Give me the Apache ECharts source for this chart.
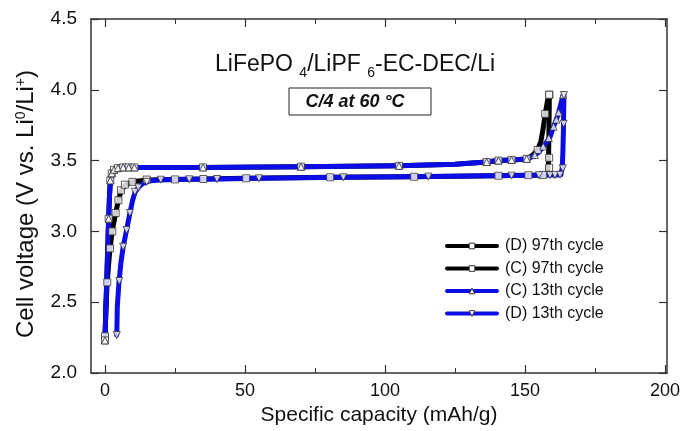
<!DOCTYPE html>
<html>
<head>
<meta charset="utf-8">
<script src="https://cdn.jsdelivr.net/npm/echarts@6.0.0/dist/echarts.min.js"></script>
<style>html,body{margin:0;padding:0;background:#fff}#chart{width:682px;height:431px}</style>
</head>
<body>
<div id="chart"></div>
<script>
// ---- data (capacity mAh/g, voltage V) ----
const xTicks = [0, 50, 100, 150, 200];
const xMinorTicks = [25, 75, 125, 175];
const yTicks = [2.0, 2.5, 3.0, 3.5, 4.0, 4.5];

const seriesNames = ['(D) 97th cycle', '(C) 97th cycle', '(C) 13th cycle', '(D) 13th cycle'];

// (D) 97th cycle - curve
const d97Line = [[0,2.23],[0.3,2.45],[0.8,2.64],[1.3,2.77],[1.8,2.88],[2.6,3.005],[3.8,3.13],[4.8,3.22],[5.7,3.285],[7.1,3.325],[9.8,3.35],[14.9,3.363],[25,3.367],[50,3.375],[80,3.382],[110,3.386],[140,3.393],[151,3.397],[157.5,3.398],[158.2,3.42],[158.4,3.5],[158.5,3.65],[158.6,3.8],[158.7,3.965]];
const d97Marks = [[0,2.26],[0.8,2.64],[1.8,2.88],[2.6,3.0],[3.8,3.13],[4.8,3.22],[5.7,3.29],[7.1,3.33],[9.8,3.35],[14.9,3.366],[25,3.367],[35.1,3.37],[50.4,3.375],[80.4,3.382],[110.4,3.386],[140.5,3.393],[151.2,3.397],[156.5,3.398],[158.6,3.45],[158.6,3.52],[158.7,3.965]];

// (C) 97th cycle
const c97Line = [[0,2.23],[0.3,2.45],[0.6,2.64],[1.0,2.9],[1.3,3.09],[1.6,3.25],[1.9,3.35],[2.4,3.41],[3.2,3.435],[4.6,3.447],[7,3.452],[35,3.452],[70,3.457],[105,3.463],[125,3.475],[136.3,3.49],[140.5,3.5],[145.2,3.505],[150.6,3.512],[152.5,3.535],[154.5,3.575],[155.7,3.64],[156.5,3.73],[157.2,3.83],[158,3.92],[158.6,3.965]];
const c97Marks = [[0,2.23],[1.3,3.09],[1.9,3.36],[2.4,3.41],[3.2,3.435],[4.6,3.447],[6.5,3.452],[8.5,3.452],[10.5,3.452],[35,3.452],[70,3.457],[105,3.463],[136.3,3.49],[140.5,3.5],[145.2,3.505],[150.6,3.512],[154.5,3.575],[157.2,3.83],[158.6,3.965]];

// (C) 13th cycle
const c13Line = [[0,2.23],[0.3,2.45],[0.6,2.64],[1.0,2.9],[1.3,3.09],[1.6,3.25],[1.9,3.35],[2.4,3.41],[3.2,3.435],[4.6,3.447],[7,3.452],[35,3.452],[70,3.457],[105,3.463],[125,3.475],[136.3,3.49],[140.5,3.5],[145.2,3.505],[150.6,3.512],[153,3.53],[155,3.56],[156.5,3.6],[158,3.64],[159,3.67],[160.2,3.74],[161.2,3.79],[162,3.84],[162.8,3.9],[163.6,3.965]];
const c13Marks = [[0,2.23],[1.3,3.09],[1.9,3.36],[2.4,3.41],[3.2,3.435],[4.6,3.447],[6.5,3.452],[8.5,3.452],[10.5,3.452],[35,3.452],[70,3.457],[105,3.463],[136.3,3.49],[140.5,3.5],[145.2,3.505],[150.6,3.512],[153.5,3.54],[156.5,3.6],[158.5,3.66],[160.2,3.74],[161.2,3.79],[162,3.84],[163.6,3.965]];

// (D) 13th cycle
const d13Line = [[4.2,2.268],[4.4,2.47],[5.0,2.645],[5.7,2.78],[6.5,2.892],[7.7,3.01],[8.9,3.13],[9.8,3.215],[10.7,3.275],[11.9,3.31],[13.3,3.335],[14.9,3.35],[17,3.36],[19.9,3.365],[30,3.368],[40,3.37],[55,3.375],[85,3.382],[115,3.387],[145,3.394],[155,3.397],[161.5,3.398],[162.8,3.4],[163.3,3.45],[163.5,3.55],[163.7,3.7],[163.8,3.85],[163.9,3.965]];
const d13Marks = [[4.2,2.268],[5.1,2.65],[6.5,2.892],[7.7,3.01],[8.9,3.13],[10.7,3.28],[11.9,3.31],[14.9,3.35],[19.9,3.365],[30.1,3.368],[40,3.37],[55,3.375],[85.1,3.382],[115.5,3.387],[145.2,3.394],[155,3.397],[158.9,3.398],[160.7,3.398],[162.5,3.4],[163.5,3.445],[163.8,3.76],[163.9,3.963]];

// ---- chart ----
const FONT = '"Liberation Sans", Arial, sans-serif';
const BLUE = '#0c0ce6';
const BLACK = '#000000';
const AX = '#333333';

const lineSets = [d97Line, c97Line, c13Line, d13Line];
const markSets = [d97Marks, c97Marks, c13Marks, d13Marks];
const colors = [BLACK, BLACK, BLUE, BLUE];
const symbols = ['rect', 'rect', 'triangle', 'triangle'];
const rotates = [0, 0, 0, 180];
const sizes = [7, 7, 7, 7];

const markerStyle = { color: '#ffffff', borderColor: '#333333', borderWidth: 1 };

const series = [];
lineSets.forEach((d, i) => {
  series.push({
    name: seriesNames[i], type: 'line', data: d,
    xAxisIndex: 0, yAxisIndex: 0,
    showSymbol: false, symbol: symbols[i], symbolRotate: rotates[i],
    lineStyle: { color: colors[i], width: 5, join: 'round', cap: 'round' },
    itemStyle: markerStyle,
    emphasis: { disabled: true }, silent: true, z: 2
  });
});
markSets.forEach((d, i) => {
  series.push({
    name: seriesNames[i] + ' markers', type: 'scatter', data: d,
    xAxisIndex: 0, yAxisIndex: 0,
    symbol: symbols[i], symbolRotate: rotates[i], symbolSize: sizes[i],
    itemStyle: markerStyle, emphasis: { disabled: true }, silent: true, z: 3
  });
});

const xBase = { type: 'value', min: -5, max: 200.7, gridIndex: 0, splitLine: { show: false } };
const yBase = { type: 'value', min: 2.0, max: 4.5, interval: 0.5, gridIndex: 0, splitLine: { show: false } };

const option = {
  animation: false,
  backgroundColor: '#ffffff',
  textStyle: { fontFamily: FONT },
  grid: { left: 91, top: 19, width: 576, height: 354, containLabel: false, outerBoundsMode: 'none' },
  title: [{
    text: '{a|LiFePO }{s|4}{a|/LiPF }{s|6}{a|-EC-DEC/Li}',
    left: 215, top: 53, padding: 0,
    textStyle: {
      fontWeight: 'normal',
      rich: {
        a: { fontFamily: FONT, fontSize: 23, fontWeight: 'normal', lineHeight: 24, verticalAlign: 'top', color: '#111' },
        s: { fontFamily: FONT, fontSize: 14, fontWeight: 'normal', lineHeight: 14, padding: [13, 0, 0, 0], verticalAlign: 'top', color: '#111' }
      }
    }
  }],
  graphic: [
    { type: 'rect', shape: { x: 289, y: 88, width: 142, height: 27 }, style: { fill: 'none', stroke: '#222', lineWidth: 1 } },
    { type: 'text', x: 355, y: 102, style: { text: 'C/4 at 60 °C', font: 'italic bold 18px ' + FONT, fill: '#111', align: 'center', verticalAlign: 'middle' } }
  ],
  legend: {
    data: seriesNames,
    orient: 'vertical', left: 445, top: 238, padding: 0,
    itemWidth: 50, itemHeight: 7, itemGap: 6.5,
    textStyle: { fontFamily: FONT, fontSize: 16, color: '#111', padding: [0, 0, 0, 3] },
    lineStyle: { width: 4 },
    itemStyle: { color: '#ffffff', borderColor: '#333333', borderWidth: 1 },
    selectedMode: false
  },
  xAxis: [
    Object.assign({}, xBase, {
      position: 'bottom',
      name: 'Specific capacity (mAh/g)', nameLocation: 'middle', nameGap: 24,
      nameTextStyle: { fontFamily: FONT, fontSize: 21, color: '#111' },
      axisLine: { show: true, onZero: false, lineStyle: { color: AX, width: 1.5 } },
      axisTick: { show: true, inside: true, length: 8, customValues: xTicks, lineStyle: { color: AX, width: 1.2 } },
      axisLabel: { show: true, customValues: xTicks, margin: 9, fontFamily: FONT, fontSize: 18, color: '#111' }
    }),
    Object.assign({}, xBase, {
      position: 'bottom',
      axisLine: { show: false, onZero: false },
      axisTick: { show: true, inside: true, length: 5, customValues: xMinorTicks, lineStyle: { color: AX, width: 1 } },
      axisLabel: { show: false }
    }),
    Object.assign({}, xBase, {
      position: 'top',
      axisLine: { show: true, onZero: false, lineStyle: { color: AX, width: 1.5 } },
      axisTick: { show: true, inside: true, length: 8, customValues: xTicks, lineStyle: { color: AX, width: 1.2 } },
      axisLabel: { show: false }
    }),
    Object.assign({}, xBase, {
      position: 'top',
      axisLine: { show: false, onZero: false },
      axisTick: { show: true, inside: true, length: 5, customValues: xMinorTicks, lineStyle: { color: AX, width: 1 } },
      axisLabel: { show: false }
    })
  ],
  yAxis: [
    Object.assign({}, yBase, {
      position: 'left',
      name: '{a|Cell voltage (V vs. Li}{p|0}{a|/Li}{p|+}{a|)}', nameLocation: 'middle', nameGap: 53,
      nameTextStyle: {
        padding: [0, 16, 0, 0],
        rich: {
          a: { fontFamily: FONT, fontSize: 24, lineHeight: 24, verticalAlign: 'top', color: '#111' },
          p: { fontFamily: FONT, fontSize: 14, lineHeight: 14, verticalAlign: 'top', color: '#111' }
        }
      },
      axisLine: { show: true, onZero: false, lineStyle: { color: AX, width: 1.5 } },
      axisTick: { show: true, inside: true, length: 8, lineStyle: { color: AX, width: 1.2 } },
      axisLabel: { show: true, margin: 14, fontFamily: FONT, fontSize: 19, color: '#111', formatter: v => v.toFixed(1) }
    }),
    Object.assign({}, yBase, {
      position: 'right',
      axisLine: { show: true, onZero: false, lineStyle: { color: AX, width: 1.5 } },
      axisTick: { show: true, inside: true, length: 8, lineStyle: { color: AX, width: 1.2 } },
      axisLabel: { show: false }
    })
  ],
  series: series
};

const chart = echarts.init(document.getElementById('chart'), null, { renderer: 'canvas' });
chart.setOption(option);
</script>
</body>
</html>
